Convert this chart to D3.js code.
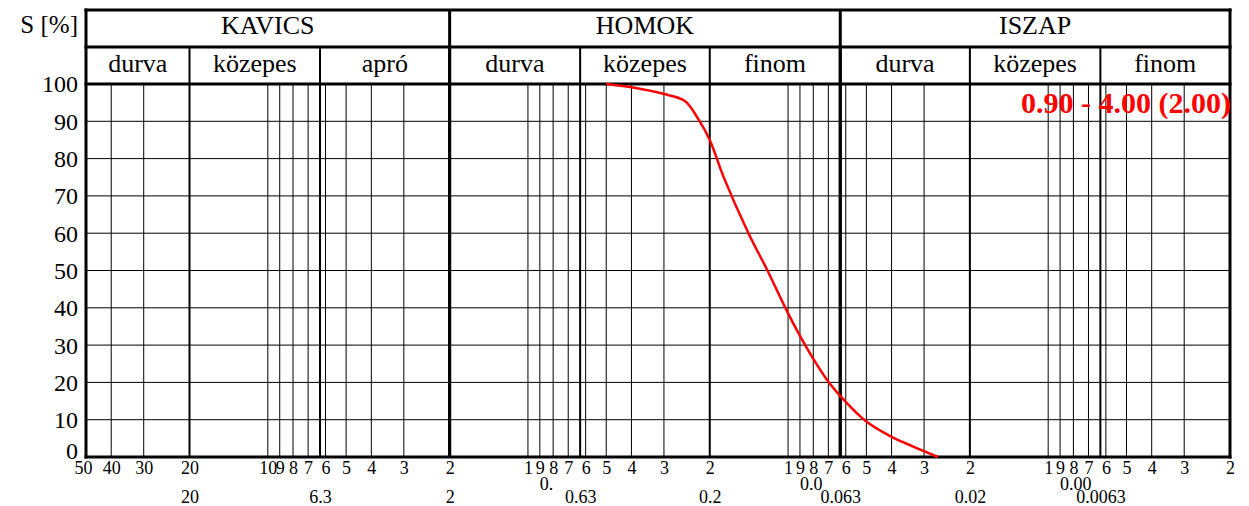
<!DOCTYPE html>
<html>
<head>
<meta charset="utf-8">
<script src="https://cdn.jsdelivr.net/npm/d3@7"></script>
<style>
  html, body { margin: 0; padding: 0; background: #fff; }
  svg { display: block; }
  svg text { font-family: "Liberation Serif", "Times New Roman", Times, serif; fill: #000; }
</style>
</head>
<body>
<svg id="chart" width="1249" height="506"></svg>
<script>
// ---- data ----
const groupNames = ["KAVICS", "HOMOK", "ISZAP"];
const groupBounds = [50, 2, 0.063, 0.002];
const subNames = ["durva", "közepes", "apró", "durva", "közepes", "finom", "durva", "közepes", "finom"];
const subBounds = [50, 20, 6.3, 2, 0.63, 0.2, 0.063, 0.02, 0.0063, 0.002];
const tickValues = [50, 40, 30, 20, 10, 9, 8, 7, 6, 5, 4, 3, 2,
  1, 0.9, 0.8, 0.7, 0.6, 0.5, 0.4, 0.3, 0.2,
  0.1, 0.09, 0.08, 0.07, 0.06, 0.05, 0.04, 0.03, 0.02,
  0.01, 0.009, 0.008, 0.007, 0.006, 0.005, 0.004, 0.003, 0.002];
const tickLabels = ["50", "40", "30", "20", "10", "9", "8", "7", "6", "5", "4", "3", "2",
  "1", "9", "8", "7", "6", "5", "4", "3", "2",
  "1", "9", "8", "7", "6", "5", "4", "3", "2",
  "1", "9", "8", "7", "6", "5", "4", "3", "2"];
const classValues = [20, 6.3, 2, 0.63, 0.2, 0.063, 0.02, 0.0063];
const classLabels = ["20", "6.3", "2", "0.63", "0.2", "0.063", "0.02", "0.0063"];
const prefixValues = [0.9, 0.09, 0.009];
const prefixLabels = ["0.", "0.0", "0.00"];
const yTicks = [0, 10, 20, 30, 40, 50, 60, 70, 80, 90, 100];
const grainSize = [0.5, 0.4, 0.3, 0.25, 0.22, 0.2, 0.177, 0.142, 0.12, 0.1, 0.09, 0.078, 0.07, 0.061, 0.05, 0.04, 0.033, 0.0265];
const passing   = [100, 99.1, 97.3, 95.5, 90.3, 85, 75.1, 60, 50, 38.5, 32.5, 25.1, 20.2, 15.3, 9.5, 5.4, 2.8, 0];
const rangeLabel = "0.90 - 4.00 (2.00)";

// ---- layout ----
const FONT = "Liberation Serif, Times New Roman, serif";
const svg = d3.select("#chart");
const pLeft = 86, pRight = 1230, pTop = 84, pBottom = 457;
const headTop = 10, headMid = 47;
const x = d3.scaleLog().domain([50, 0.002]).range([pLeft, pRight]);
const y = d3.scaleLinear().domain([0, 100]).range([pBottom, pTop]);

// thin vertical gridlines
const thickSet = new Set(subBounds.map(String));
svg.append("g").selectAll("line")
  .data(tickValues.filter(v => !thickSet.has(String(v))))
  .join("line")
  .attr("x1", d => x(d)).attr("x2", d => x(d))
  .attr("y1", pTop).attr("y2", pBottom)
  .attr("stroke", "#000").attr("stroke-width", 1);

// horizontal gridlines
svg.append("g").selectAll("line")
  .data(yTicks.filter(v => v > 0 && v < 100))
  .join("line")
  .attr("x1", pLeft).attr("x2", pRight)
  .attr("y1", d => y(d)).attr("y2", d => y(d))
  .attr("stroke", "#000").attr("stroke-width", 1);

// sub-class boundaries (header row 2 + plot)
svg.append("g").selectAll("line")
  .data(subBounds.slice(1, -1))
  .join("line")
  .attr("x1", d => x(d)).attr("x2", d => x(d))
  .attr("y1", headMid).attr("y2", pBottom)
  .attr("stroke", "#000")
  .attr("stroke-width", d => groupBounds.includes(d) ? 3 : 2);

// group boundaries through whole header
svg.append("g").selectAll("line")
  .data(groupBounds.slice(1, -1))
  .join("line")
  .attr("x1", d => x(d)).attr("x2", d => x(d))
  .attr("y1", headTop).attr("y2", pBottom)
  .attr("stroke", "#000").attr("stroke-width", 3);

// header horizontal lines + outer frame
[headTop, headMid, pTop, pBottom].forEach(yy => {
  svg.append("line").attr("x1", pLeft - 1.5).attr("x2", pRight + 1.5)
    .attr("y1", yy).attr("y2", yy).attr("stroke", "#000").attr("stroke-width", 3);
});
[pLeft, pRight].forEach(xx => {
  svg.append("line").attr("x1", xx).attr("x2", xx)
    .attr("y1", headTop - 1.5).attr("y2", pBottom + 1.5).attr("stroke", "#000").attr("stroke-width", 3);
});

// header texts
svg.append("g").selectAll("text")
  .data(groupNames)
  .join("text")
  .attr("x", (d, i) => (x(groupBounds[i]) + x(groupBounds[i + 1])) / 2)
  .attr("y", 34)
  .attr("text-anchor", "middle")
  .attr("font-family", FONT)
  .attr("font-size", 26)
  .text(d => d);

svg.append("g").selectAll("text")
  .data(subNames)
  .join("text")
  .attr("x", (d, i) => (x(subBounds[i]) + x(subBounds[i + 1])) / 2)
  .attr("y", 72)
  .attr("text-anchor", "middle")
  .attr("font-family", FONT)
  .attr("font-size", 26)
  .text(d => d);

svg.append("text").attr("x", 78).attr("y", 33).attr("text-anchor", "end")
  .attr("font-family", FONT).attr("font-size", 25).text("S [%]");

// y axis
const yAxis = svg.append("g").attr("transform", `translate(${pLeft},0)`)
  .call(d3.axisLeft(y).tickValues(yTicks).tickSize(0).tickPadding(8).tickFormat(d3.format("d")));
yAxis.select(".domain").remove();
yAxis.attr("font-family", FONT);
yAxis.selectAll("text").attr("font-family", FONT).attr("font-size", 24)
  .attr("dy", d => d === 0 ? "0.05em" : "0.33em");

// x axis row 1
const xAxis = svg.append("g").attr("transform", `translate(0,${pBottom})`)
  .call(d3.axisBottom(x).tickValues(tickValues).tickSize(0).tickFormat((d, i) => tickLabels[i]));
xAxis.select(".domain").remove();
xAxis.attr("font-family", FONT);
xAxis.selectAll("text").attr("font-family", FONT).attr("font-size", 18)
  .attr("y", 17).attr("dy", null)
  .attr("dx", d => d === 50 ? -3 : 0);

// prefix row
svg.append("g").selectAll("text")
  .data(prefixValues)
  .join("text")
  .attr("x", d => x(d)).attr("y", 490)
  .attr("font-family", FONT)
  .attr("font-size", 18)
  .text((d, i) => prefixLabels[i]);

// class row
const xAxis2 = svg.append("g").attr("transform", `translate(0,${pBottom})`)
  .call(d3.axisBottom(x).tickValues(classValues).tickSize(0).tickFormat((d, i) => classLabels[i]));
xAxis2.select(".domain").remove();
xAxis2.attr("font-family", FONT);
xAxis2.selectAll("text").attr("font-family", FONT).attr("font-size", 18)
  .attr("y", 46).attr("dy", null);

// curve
const pts = grainSize.map((g, i) => [g, passing[i]]);
svg.append("path")
  .datum(pts)
  .attr("fill", "none")
  .attr("stroke", "#ff0000")
  .attr("stroke-width", 2.5)
  .attr("d", d3.line().x(d => x(d[0])).y(d => y(d[1])).curve(d3.curveCatmullRom.alpha(0.5)));

// annotation
svg.append("text").attr("x", pRight + 1).attr("y", 113)
  .attr("text-anchor", "end").attr("font-family", FONT).attr("font-size", 30).attr("font-weight", "bold")
  .style("fill", "#ff0000").text(rangeLabel);
</script>
</body>
</html>
